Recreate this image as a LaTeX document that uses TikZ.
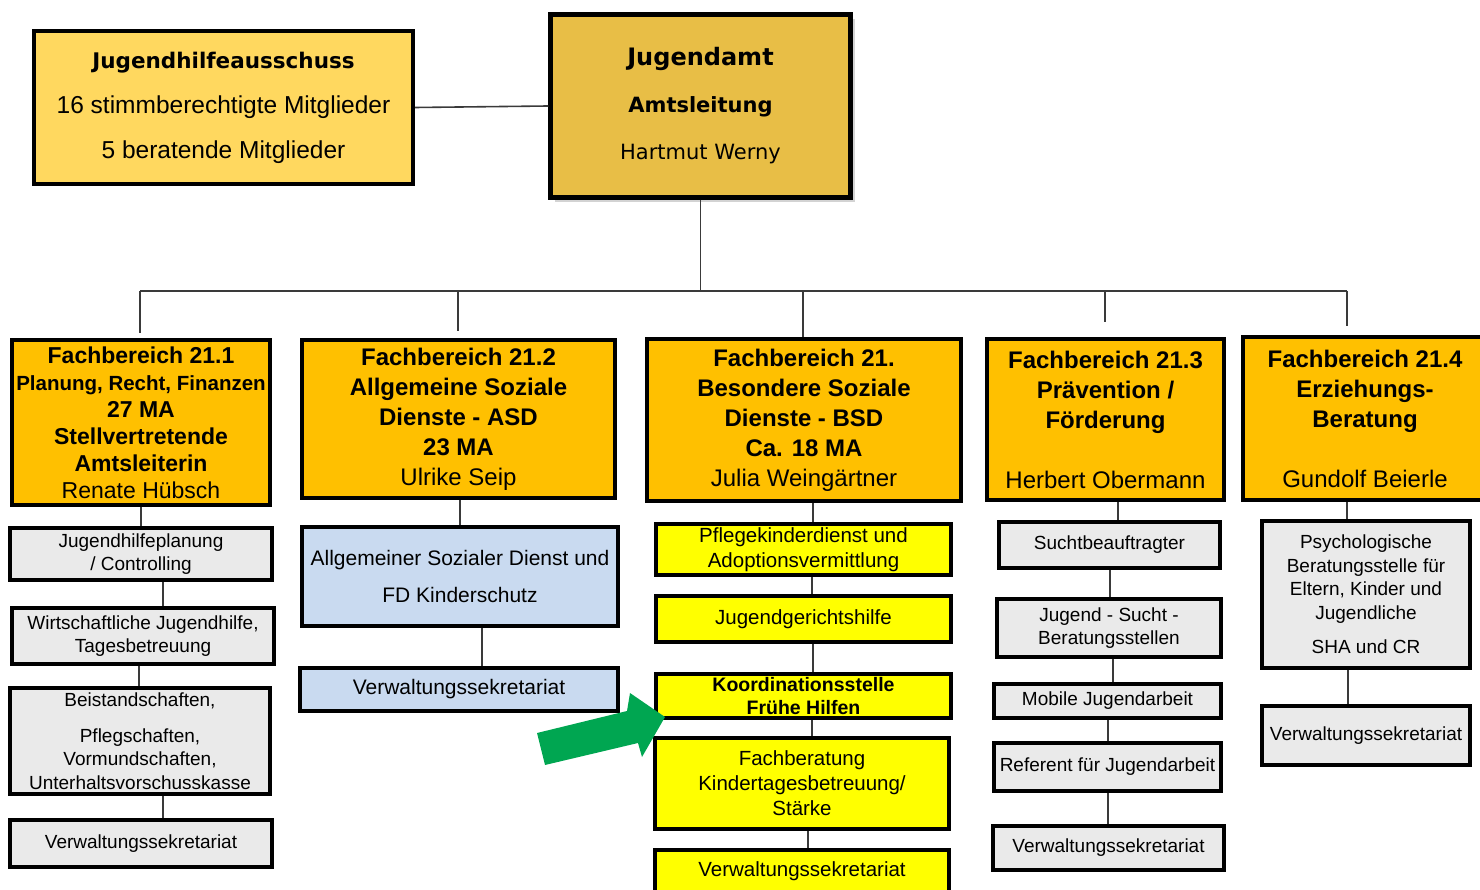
\documentclass[tikz,border=0pt]{standalone}
\usepackage{fontspec}
\setmainfont{Liberation Sans}
\newfontfamily\tahoma{DejaVu Sans}
\usetikzlibrary{shadows}
\definecolor{ausschussgold}{HTML}{FFD85F}
\definecolor{amtgold}{HTML}{E8BE46}
\definecolor{fborange}{HTML}{FFC000}
\definecolor{subgrey}{HTML}{EAEAEA}
\definecolor{asdblue}{HTML}{C9DAF0}
\definecolor{bsdyellow}{HTML}{FFFF00}
\definecolor{arrowgreen}{HTML}{00A651}
\definecolor{connline}{HTML}{3A3A3A}
\newcommand{\fsz}[2]{\fontsize{#1}{#2}\selectfont}

\begin{document}
\begin{tikzpicture}[x=1pt, y=-1pt,
    orgbox/.style={draw=black, line width=4pt, align=center, inner sep=0pt},
    fbbox/.style={orgbox, fill=fborange, font=\bfseries\fsz{24}{30}},
    greybox/.style={orgbox, fill=subgrey, font=\fsz{19}{23.5}},
    bluebox/.style={orgbox, fill=asdblue, font=\fsz{21}{37}},
    yellowbox/.style={orgbox, fill=bsdyellow, font=\fsz{20.5}{25}},
    conn/.style={draw=connline, line width=1.6pt}]
    \useasboundingbox (0,0) rectangle (1480,890);

    % Leitung
    \node[orgbox, fill=ausschussgold, minimum width=379pt, minimum height=153pt, font=\fsz{24.5}{45}] (ausschuss) at (223.5,107.5)
        {{\tahoma\bfseries\fsz{21.5}{45}Jugendhilfeausschuss}\\16 stimmberechtigte Mitglieder\\5 beratende Mitglieder};
    \node[orgbox, line width=4.5pt, fill=amtgold, minimum width=300pt, minimum height=183pt, font=\tahoma\fsz{21}{47},
        drop shadow={opacity=0.35, shadow xshift=4pt, shadow yshift=-5pt}] (amt) at (700.5,106)
        {{\bfseries\fsz{24}{47}Jugendamt}\\{\bfseries Amtsleitung}\\Hartmut Werny};

    % Fachbereiche
    \node[fbbox, font=\bfseries\fsz{23}{27}, minimum width=258pt, minimum height=165pt] (fbplan) at (141,422.5)
        {Fachbereich 21.1\\{\fsz{20.5}{27}Planung, Recht, Finanzen}\\27 MA\\Stellvertretende\\Amtsleiterin\\{\mdseries Renate Hübsch}};
    \node[fbbox, minimum width=313pt, minimum height=158pt] (fbasd) at (458.5,419)
        {Fachbereich 21.2\\Allgemeine Soziale\\Dienste - ASD\\23 MA\\{\mdseries Ulrike Seip}};
    \node[fbbox, minimum width=314pt, minimum height=162pt] (fbbsd) at (804,420)
        {Fachbereich 21.\\Besondere Soziale\\Dienste - BSD\\Ca. 18 MA\\{\mdseries Julia Weingärtner}};
    \node[fbbox, minimum width=237pt, minimum height=161pt] (fbpraev) at (1105.5,419.5)
        {Fachbereich 21.3\\Prävention /\\Förderung\\[30pt]{\mdseries Herbert Obermann}};
    \node[fbbox, minimum width=244pt, minimum height=163pt] (fbeb) at (1365,418.5)
        {Fachbereich 21.4\\Erziehungs-\\Beratung\\[30pt]{\mdseries Gundolf Beierle}};

    % Sachgebiete 21.1
    \node[greybox, minimum width=262pt, minimum height=52pt] (planung) at (141,554) {Jugendhilfeplanung\\/ Controlling};
    \node[greybox, minimum width=262pt, minimum height=56pt] (wirtschaft) at (143,636) {Wirtschaftliche Jugendhilfe,\\Tagesbetreuung};
    \node[greybox, minimum width=260pt, minimum height=106pt] (beistand) at (140,741)
        {Beistandschaften,\\[12pt]Pflegschaften,\\Vormundschaften,\\Unterhaltsvorschusskasse};
    \node[greybox, minimum width=262pt, minimum height=47pt] (plansek) at (141,843.5) {Verwaltungssekretariat};

    % Sachgebiete 21.2
    \node[bluebox, minimum width=316pt, minimum height=99pt] (asd) at (460,576.5) {Allgemeiner Sozialer Dienst und\\FD Kinderschutz};
    \node[bluebox, minimum width=318pt, minimum height=43pt] (asdsek) at (459,689.5) {Verwaltungssekretariat};

    % Sachgebiete BSD
    \node[yellowbox, minimum width=295pt, minimum height=51pt] (pflege) at (803.5,549.5) {Pflegekinderdienst und\\Adoptionsvermittlung};
    \node[yellowbox, minimum width=295pt, minimum height=46pt] (jgh) at (803.5,619) {Jugendgerichtshilfe};
    \node[yellowbox, minimum width=295pt, minimum height=44pt, font=\bfseries\fsz{19.5}{23.5}] (koord) at (803.5,696) {Koordinationsstelle\\Frühe Hilfen};
    \node[yellowbox, minimum width=294pt, minimum height=91pt] (fachberatung) at (802,783.5) {Fachberatung\\Kindertagesbetreuung/\\Stärke};
    \node[yellowbox, minimum width=294pt, minimum height=43pt] (bsdsek) at (802,871.5) {Verwaltungssekretariat};

    % Sachgebiete 21.3
    \node[greybox, minimum width=221pt, minimum height=46pt] (sucht) at (1109.5,545) {Suchtbeauftragter};
    \node[greybox, minimum width=224pt, minimum height=58pt] (jsb) at (1109,628) {Jugend - Sucht -\\Beratungsstellen};
    \node[greybox, minimum width=227pt, minimum height=34pt] (mobil) at (1107.5,701) {Mobile Jugendarbeit};
    \node[greybox, minimum width=227pt, minimum height=48pt] (referent) at (1107.5,767) {Referent für Jugendarbeit};
    \node[greybox, minimum width=231pt, minimum height=44pt] (praevsek) at (1108.5,848) {Verwaltungssekretariat};

    % Sachgebiete 21.4
    \node[greybox, minimum width=208pt, minimum height=147pt] (psych) at (1366,594.5)
        {Psychologische\\Beratungsstelle für\\Eltern, Kinder und\\Jugendliche\\[11pt]SHA und CR};
    \node[greybox, minimum width=208pt, minimum height=59pt] (ebsek) at (1366,735.5) {Verwaltungssekretariat};

    % Verbindungen oben
    \draw[conn] (ausschuss.east) -- (amt.west);
    \coordinate (bus) at (702,291);
    \coordinate (drop1) at (140,291);
    \coordinate (drop2) at (458,291);
    \coordinate (drop3) at (803,291);
    \coordinate (drop4) at (1105,291);
    \coordinate (drop5) at (1347,291);
    \draw[conn] (amt.south) -- (amt.south |- bus);
    \draw[conn] (drop1) -- (drop5);
    \draw[conn, shorten >=5pt] (drop1) -- (drop1 |- fbplan.north);
    \draw[conn, shorten >=7pt] (drop2) -- (drop2 |- fbasd.north);
    \draw[conn] (drop3) -- (drop3 |- fbbsd.north);
    \draw[conn, shorten >=15pt] (drop4) -- (drop4 |- fbpraev.north);
    \draw[conn, shorten >=9pt] (drop5) -- (drop5 |- fbeb.north);

    % Verbindungen in den Spalten
    \draw[conn] (fbplan.south -| 141,0) -- (planung.north -| 141,0);
    \draw[conn] (planung.south -| 163,0) -- (wirtschaft.north -| 163,0);
    \draw[conn] (wirtschaft.south -| 139,0) -- (beistand.north -| 139,0);
    \draw[conn] (beistand.south -| 163,0) -- (plansek.north -| 163,0);
    \draw[conn] (fbasd.south -| 460,0) -- (asd.north -| 460,0);
    \draw[conn] (asd.south -| 482,0) -- (asdsek.north -| 482,0);
    \draw[conn] (fbbsd.south -| 813,0) -- (pflege.north -| 813,0);
    \draw[conn] (pflege.south -| 812,0) -- (jgh.north -| 812,0);
    \draw[conn] (jgh.south -| 813,0) -- (koord.north -| 813,0);
    \draw[conn] (koord.south -| 812,0) -- (fachberatung.north -| 812,0);
    \draw[conn] (fachberatung.south -| 808,0) -- (bsdsek.north -| 808,0);
    \draw[conn] (fbpraev.south -| 1118,0) -- (sucht.north -| 1118,0);
    \draw[conn] (sucht.south -| 1110,0) -- (jsb.north -| 1110,0);
    \draw[conn] (jsb.south -| 1113,0) -- (mobil.north -| 1113,0);
    \draw[conn] (mobil.south -| 1108,0) -- (referent.north -| 1108,0);
    \draw[conn] (referent.south -| 1108,0) -- (praevsek.north -| 1108,0);
    \draw[conn] (fbeb.south -| 1347,0) -- (psych.north -| 1347,0);
    \draw[conn] (psych.south -| 1348,0) -- (ebsek.north -| 1348,0);

    % Hinweispfeil
    \fill[arrowgreen] (537,733) -- (627,711) -- (630,693) -- (665,717) -- (642,757) -- (638,743) -- (545,765) -- cycle;
\end{tikzpicture}
\end{document}
